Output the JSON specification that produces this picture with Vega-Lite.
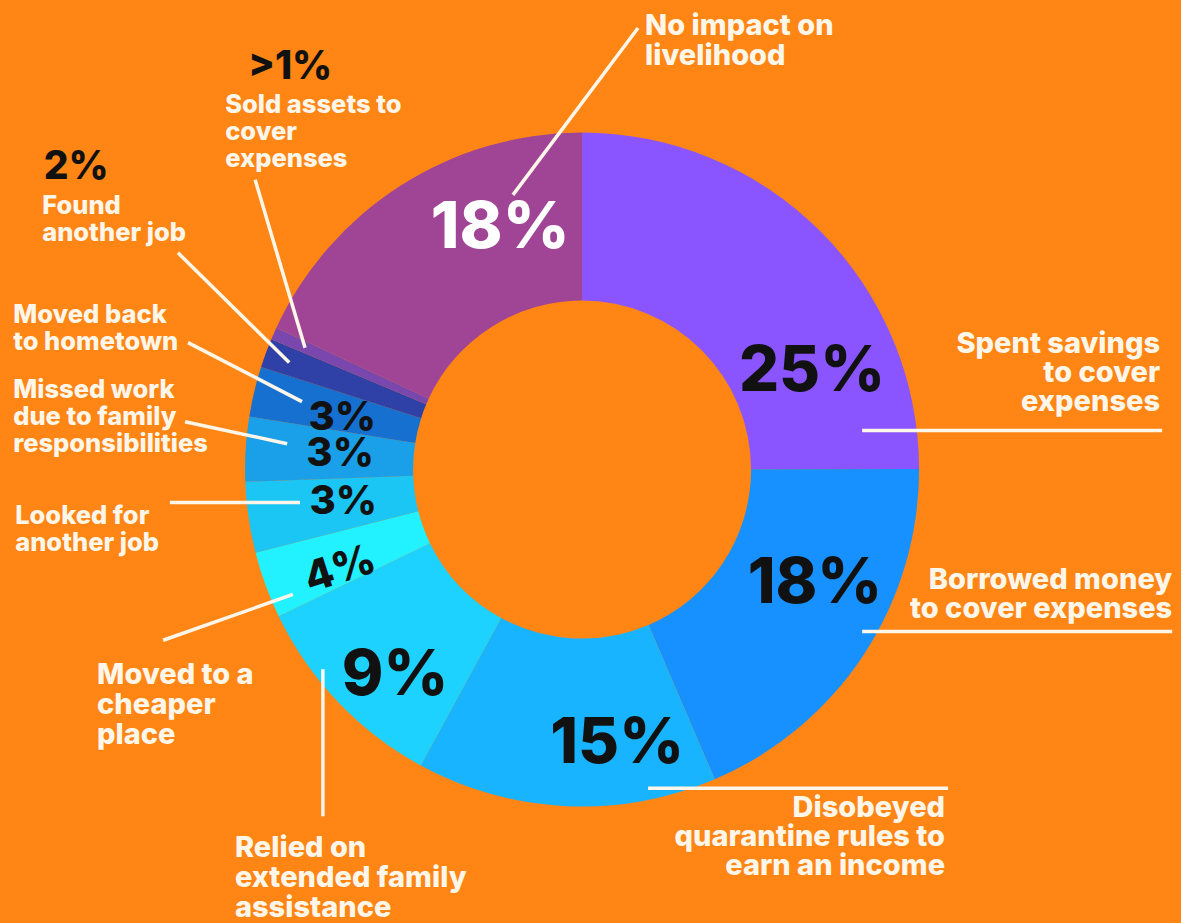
{
  "$schema": "https://vega.github.io/schema/vega-lite/v6.json",
  "width": 1181,
  "height": 923,
  "autosize": {"type": "fit", "contains": "padding"},
  "padding": 0,
  "background": "#FF8514",
  "config": {"view": {"stroke": null}, "axis": {"disable": true}},
  "datasets": {
    "slices": [
      {"slice": "Spent savings to cover expenses", "order": 1, "share": 25.0},
      {"slice": "Borrowed money to cover expenses", "order": 2, "share": 18.6},
      {"slice": "Disobeyed quarantine rules to earn an income", "order": 3, "share": 14.4},
      {"slice": "Relied on extended family assistance", "order": 4, "share": 9.9},
      {"slice": "Moved to a cheaper place", "order": 5, "share": 3.2},
      {"slice": "Looked for another job", "order": 6, "share": 3.4},
      {"slice": "Missed work due to family responsibilities", "order": 7, "share": 3.1},
      {"slice": "Moved back to hometown", "order": 8, "share": 2.4},
      {"slice": "Found another job", "order": 9, "share": 1.4},
      {"slice": "Sold assets to cover expenses", "order": 10, "share": 0.6},
      {"slice": "No impact on livelihood", "order": 11, "share": 18.1}
    ],
    "labels": [
      {"slice": "No impact on livelihood", "text": ["No impact on", "livelihood"], "x": 0.187, "y": 1.291},
      {"slice": "Spent savings to cover expenses", "text": ["Spent savings", "to cover", "expenses"], "x": 1.715, "y": 0.347},
      {"slice": "Borrowed money to cover expenses", "text": ["Borrowed money", "to cover expenses"], "x": 1.751, "y": -0.356},
      {"slice": "Disobeyed quarantine rules to earn an income", "text": ["Disobeyed", "quarantine rules to", "earn an income"], "x": 1.077, "y": -1.033},
      {"slice": "Relied on extended family assistance", "text": ["Relied on", "extended family", "assistance"], "x": -1.03, "y": -1.151},
      {"slice": "Moved to a cheaper place", "text": ["Moved to a", "cheaper", "place"], "x": -1.439, "y": -0.638},
      {"slice": "Looked for another job", "text": ["Looked for", "another job"], "x": -1.682, "y": -0.163},
      {"slice": "Missed work due to family responsibilities", "text": ["Missed work", "due to family", "responsibilities"], "x": -1.688, "y": 0.214},
      {"slice": "Moved back to hometown", "text": ["Moved back", "to hometown"], "x": -1.688, "y": 0.436},
      {"slice": "Found another job", "text": ["Found", "another job"], "x": -1.602, "y": 0.76},
      {"slice": "Sold assets to cover expenses", "text": ["Sold assets to", "cover", "expenses"], "x": -1.059, "y": 1.059}
    ],
    "leaders": [
      {"slice": "No impact on livelihood", "x": -0.205, "y": 0.816, "x2": 0.166, "y2": 1.312},
      {"slice": "Spent savings to cover expenses", "x": 0.831, "y": 0.116, "x2": 1.721, "y2": 0.116},
      {"slice": "Borrowed money to cover expenses", "x": 0.831, "y": -0.481, "x2": 1.751, "y2": -0.481},
      {"slice": "Disobeyed quarantine rules to earn an income", "x": 0.196, "y": -0.947, "x2": 1.086, "y2": -0.947},
      {"slice": "Relied on extended family assistance", "x": -0.769, "y": -0.593, "x2": -0.769, "y2": -1.03},
      {"slice": "Moved to a cheaper place", "x": -0.858, "y": -0.371, "x2": -1.243, "y2": -0.507},
      {"slice": "Looked for another job", "x": -0.837, "y": -0.098, "x2": -1.223, "y2": -0.098},
      {"slice": "Missed work due to family responsibilities", "x": -0.875, "y": 0.077, "x2": -1.178, "y2": 0.142},
      {"slice": "Moved back to hometown", "x": -0.831, "y": 0.202, "x2": -1.169, "y2": 0.377},
      {"slice": "Found another job", "x": -0.869, "y": 0.318, "x2": -1.199, "y2": 0.644},
      {"slice": "Sold assets to cover expenses", "x": -0.822, "y": 0.362, "x2": -0.97, "y2": 0.861}
    ],
    "percents": [
      {"slice": "Spent savings to cover expenses", "text": "25%", "x": 0.682, "y": 0.291},
      {"slice": "Borrowed money to cover expenses", "text": "18%", "x": 0.691, "y": -0.341},
      {"slice": "Disobeyed quarantine rules to earn an income", "text": "15%", "x": 0.104, "y": -0.816},
      {"slice": "Relied on extended family assistance", "text": "9%", "x": -0.555, "y": -0.614},
      {"slice": "Moved to a cheaper place", "text": "4%", "x": -0.718, "y": -0.297},
      {"slice": "Looked for another job", "text": "3%", "x": -0.709, "y": -0.095},
      {"slice": "Missed work due to family responsibilities", "text": "3%", "x": -0.718, "y": 0.045},
      {"slice": "Moved back to hometown", "text": "3%", "x": -0.712, "y": 0.154},
      {"slice": "Found another job", "text": "2%", "x": -1.501, "y": 0.899},
      {"slice": "Sold assets to cover expenses", "text": ">1%", "x": -0.866, "y": 1.196},
      {"slice": "No impact on livelihood", "text": "18%", "x": -0.243, "y": 0.718}
    ]
  },
  "layer": [
    {
      "data": {"name": "slices"},
      "mark": {"type": "arc", "outerRadius": 337, "innerRadius": 169, "stroke": null},
      "encoding": {
        "x": {"datum": 0, "type": "quantitative", "scale": {"domain": [-1.727, 1.777], "nice": false, "zero": false}, "axis": null},
        "y": {"datum": 0, "type": "quantitative", "scale": {"domain": [-1.344, 1.395], "nice": false, "zero": false}, "axis": null},
        "theta": {"field": "share", "type": "quantitative", "stack": true},
        "order": {"field": "order", "type": "quantitative"},
        "color": {
          "field": "slice", "type": "nominal", "legend": null,
          "scale": {
            "domain": ["Spent savings to cover expenses", "Borrowed money to cover expenses", "Disobeyed quarantine rules to earn an income", "Relied on extended family assistance", "Moved to a cheaper place", "Looked for another job", "Missed work due to family responsibilities", "Moved back to hometown", "Found another job", "Sold assets to cover expenses", "No impact on livelihood"],
            "range": ["#8A55FF", "#1691FF", "#19B4FF", "#1ED2FF", "#22F2FF", "#1BC6F4", "#1AA0E8", "#1570D0", "#2F40A6", "#7A47AE", "#A04596"]
          }
        }
      }
    },
    {
      "data": {"name": "leaders"},
      "mark": {"type": "rule", "color": "#FFF6EA", "strokeWidth": 3.5},
      "encoding": {
        "x": {"field": "x", "type": "quantitative", "scale": {"domain": [-1.727, 1.777], "nice": false, "zero": false}, "axis": null},
        "y": {"field": "y", "type": "quantitative", "scale": {"domain": [-1.344, 1.395], "nice": false, "zero": false}, "axis": null},
        "x2": {"field": "x2"},
        "y2": {"field": "y2"}
      }
    },
    {
      "data": {"name": "labels"},
      "transform": [{"filter": {"field": "slice", "oneOf": ["No impact on livelihood", "Relied on extended family assistance", "Moved to a cheaper place"]}}],
      "mark": {"type": "text", "align": "left", "baseline": "alphabetic", "font": "Inter", "fontWeight": 800, "fontSize": 29, "lineHeight": 30, "color": "#FFF6EA"},
      "encoding": {
        "x": {"field": "x", "type": "quantitative", "scale": {"domain": [-1.727, 1.777], "nice": false, "zero": false}, "axis": null},
        "y": {"field": "y", "type": "quantitative", "scale": {"domain": [-1.344, 1.395], "nice": false, "zero": false}, "axis": null},
        "text": {"field": "text"}
      }
    },
    {
      "data": {"name": "labels"},
      "transform": [{"filter": {"field": "slice", "oneOf": ["Spent savings to cover expenses", "Borrowed money to cover expenses", "Disobeyed quarantine rules to earn an income"]}}],
      "mark": {"type": "text", "align": "right", "baseline": "alphabetic", "font": "Inter", "fontWeight": 800, "fontSize": 29, "lineHeight": 29, "color": "#FFF6EA"},
      "encoding": {
        "x": {"field": "x", "type": "quantitative", "scale": {"domain": [-1.727, 1.777], "nice": false, "zero": false}, "axis": null},
        "y": {"field": "y", "type": "quantitative", "scale": {"domain": [-1.344, 1.395], "nice": false, "zero": false}, "axis": null},
        "text": {"field": "text"}
      }
    },
    {
      "data": {"name": "labels"},
      "transform": [{"filter": {"field": "slice", "oneOf": ["Looked for another job", "Missed work due to family responsibilities", "Moved back to hometown", "Found another job", "Sold assets to cover expenses"]}}],
      "mark": {"type": "text", "align": "left", "baseline": "alphabetic", "font": "Inter", "fontWeight": 800, "fontSize": 25.5, "lineHeight": 27, "color": "#FFF6EA"},
      "encoding": {
        "x": {"field": "x", "type": "quantitative", "scale": {"domain": [-1.727, 1.777], "nice": false, "zero": false}, "axis": null},
        "y": {"field": "y", "type": "quantitative", "scale": {"domain": [-1.344, 1.395], "nice": false, "zero": false}, "axis": null},
        "text": {"field": "text"}
      }
    },
    {
      "data": {"name": "percents"},
      "transform": [{"filter": {"field": "slice", "oneOf": ["Spent savings to cover expenses", "Borrowed money to cover expenses", "Disobeyed quarantine rules to earn an income", "Relied on extended family assistance"]}}],
      "mark": {"type": "text", "align": "center", "baseline": "middle", "font": "Inter", "fontWeight": 800, "fontSize": 63, "color": "#111111"},
      "encoding": {
        "x": {"field": "x", "type": "quantitative", "scale": {"domain": [-1.727, 1.777], "nice": false, "zero": false}, "axis": null},
        "y": {"field": "y", "type": "quantitative", "scale": {"domain": [-1.344, 1.395], "nice": false, "zero": false}, "axis": null},
        "text": {"field": "text"}
      }
    },
    {
      "data": {"name": "percents"},
      "transform": [{"filter": {"field": "slice", "equal": "No impact on livelihood"}}],
      "mark": {"type": "text", "align": "center", "baseline": "middle", "font": "Inter", "fontWeight": 800, "fontSize": 65, "color": "#FFFFFF"},
      "encoding": {
        "x": {"field": "x", "type": "quantitative", "scale": {"domain": [-1.727, 1.777], "nice": false, "zero": false}, "axis": null},
        "y": {"field": "y", "type": "quantitative", "scale": {"domain": [-1.344, 1.395], "nice": false, "zero": false}, "axis": null},
        "text": {"field": "text"}
      }
    },
    {
      "data": {"name": "percents"},
      "transform": [{"filter": {"field": "slice", "oneOf": ["Looked for another job", "Missed work due to family responsibilities", "Moved back to hometown"]}}],
      "mark": {"type": "text", "align": "center", "baseline": "middle", "font": "Inter", "fontWeight": 800, "fontSize": 40, "color": "#111111"},
      "encoding": {
        "x": {"field": "x", "type": "quantitative", "scale": {"domain": [-1.727, 1.777], "nice": false, "zero": false}, "axis": null},
        "y": {"field": "y", "type": "quantitative", "scale": {"domain": [-1.344, 1.395], "nice": false, "zero": false}, "axis": null},
        "text": {"field": "text"}
      }
    },
    {
      "data": {"name": "percents"},
      "transform": [{"filter": {"field": "slice", "equal": "Moved to a cheaper place"}}],
      "mark": {"type": "text", "align": "center", "baseline": "middle", "font": "Inter", "fontWeight": 800, "fontSize": 42, "angle": -18, "color": "#111111"},
      "encoding": {
        "x": {"field": "x", "type": "quantitative", "scale": {"domain": [-1.727, 1.777], "nice": false, "zero": false}, "axis": null},
        "y": {"field": "y", "type": "quantitative", "scale": {"domain": [-1.344, 1.395], "nice": false, "zero": false}, "axis": null},
        "text": {"field": "text"}
      }
    },
    {
      "data": {"name": "percents"},
      "transform": [{"filter": {"field": "slice", "oneOf": ["Found another job", "Sold assets to cover expenses"]}}],
      "mark": {"type": "text", "align": "center", "baseline": "middle", "font": "Inter", "fontWeight": 800, "fontSize": 39, "color": "#111111"},
      "encoding": {
        "x": {"field": "x", "type": "quantitative", "scale": {"domain": [-1.727, 1.777], "nice": false, "zero": false}, "axis": null},
        "y": {"field": "y", "type": "quantitative", "scale": {"domain": [-1.344, 1.395], "nice": false, "zero": false}, "axis": null},
        "text": {"field": "text"}
      }
    }
  ]
}
